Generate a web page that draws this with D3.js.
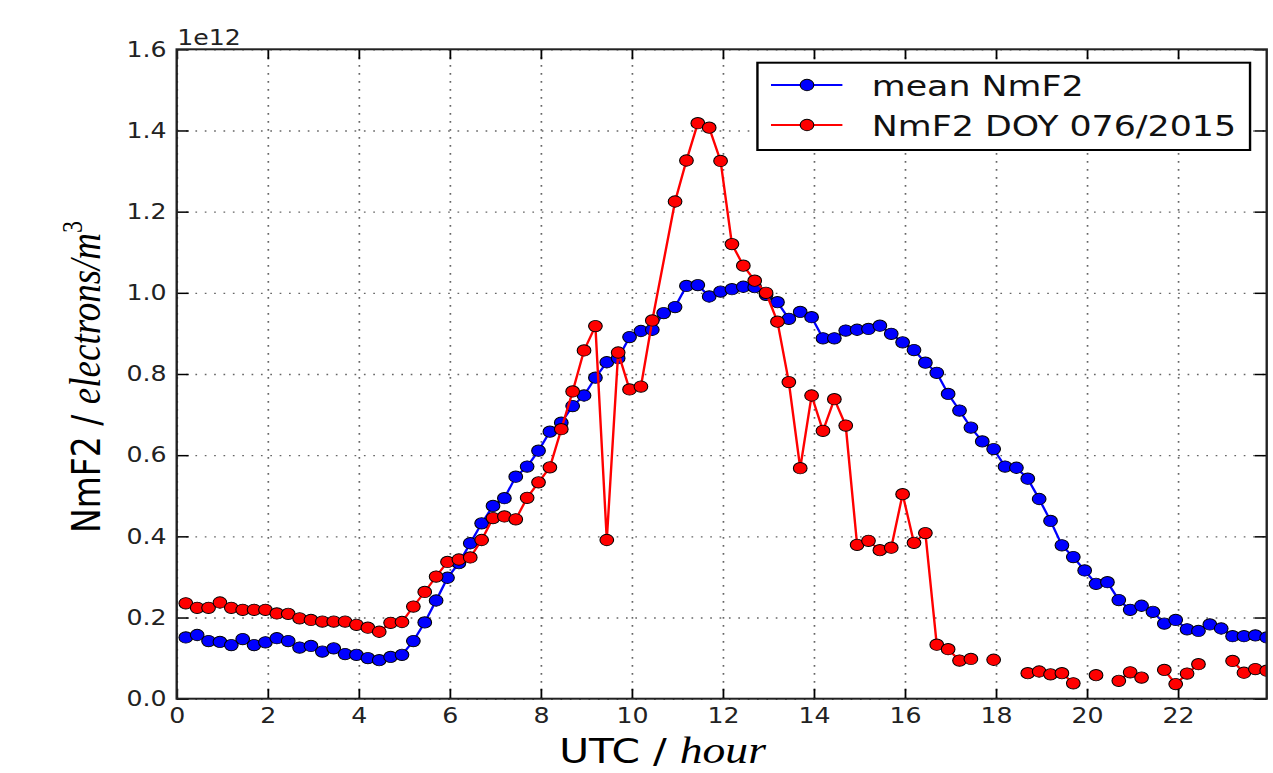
<!DOCTYPE html>
<html>
<head>
<meta charset="utf-8">
<script src="https://cdn.jsdelivr.net/npm/d3@7/dist/d3.min.js"></script>
<style>
  body { margin: 0; background: #fff; }
  svg { display: block; }
</style>
</head>
<body>
<div id="chart"></div>
<script>

// UTC hour of each sample (15 min steps)
var hours = [0.2,0.45,0.7,0.95,1.2,1.45,1.7,1.95,2.2,2.45,2.7,2.95,3.2,3.45,3.7,3.95,
  4.2,4.45,4.7,4.95,5.2,5.45,5.7,5.95,6.2,6.45,6.7,6.95,7.2,7.45,7.7,7.95,
  8.2,8.45,8.7,8.95,9.2,9.45,9.7,9.95,10.2,10.45,10.7,10.95,11.2,11.45,11.7,11.95,
  12.2,12.45,12.7,12.95,13.2,13.45,13.7,13.95,14.2,14.45,14.7,14.95,15.2,15.45,15.7,15.95,
  16.2,16.45,16.7,16.95,17.2,17.45,17.7,17.95,18.2,18.45,18.7,18.95,19.2,19.45,19.7,19.95,
  20.2,20.45,20.7,20.95,21.2,21.45,21.7,21.95,22.2,22.45,22.7,22.95,23.2,23.45,23.7,23.95];

// mean NmF2, units of 1e12 electrons/m^3
var meanNmF2 = [0.151,0.157,0.142,0.140,0.132,0.147,0.132,0.139,0.149,0.142,0.126,0.130,0.116,0.124,0.110,0.108,
  0.100,0.095,0.103,0.108,0.142,0.188,0.242,0.298,0.334,0.383,0.432,0.475,0.494,0.547,0.572,0.611,
  0.658,0.680,0.721,0.747,0.791,0.829,0.839,0.891,0.906,0.909,0.950,0.965,1.017,1.019,0.991,1.003,
  1.009,1.015,1.014,0.995,0.977,0.936,0.953,0.940,0.888,0.888,0.907,0.909,0.911,0.919,0.899,0.878,
  0.859,0.828,0.803,0.751,0.710,0.668,0.634,0.615,0.572,0.569,0.542,0.492,0.438,0.378,0.349,0.316,
  0.283,0.287,0.243,0.219,0.229,0.214,0.185,0.194,0.171,0.167,0.183,0.173,0.154,0.154,0.156,0.151];

// DOY 076/2015 samples (no sample at 10.7, null = gap)
var doyHours = [0.2,0.45,0.7,0.95,1.2,1.45,1.7,1.95,2.2,2.45,2.7,2.95,3.2,3.45,3.7,3.95,
  4.2,4.45,4.7,4.95,5.2,5.45,5.7,5.95,6.2,6.45,6.7,6.95,7.2,7.45,7.7,7.95,
  8.2,8.45,8.7,8.95,9.2,9.45,9.7,9.95,10.2,10.45,10.95,11.2,11.45,11.7,11.95,
  12.2,12.45,12.7,12.95,13.2,13.45,13.7,13.95,14.2,14.45,14.7,14.95,15.2,15.45,15.7,15.95,
  16.2,16.45,16.7,16.95,17.2,17.45,17.7,17.95,18.2,18.45,18.7,18.95,19.2,19.45,19.7,19.95,
  20.2,20.45,20.7,20.95,21.2,21.45,21.7,21.95,22.2,22.45,22.7,22.95,23.2,23.45,23.7,23.95];

var doyNmF2 = [0.235,0.224,0.224,0.237,0.224,0.219,0.219,0.219,0.210,0.209,0.198,0.194,0.190,0.190,0.190,0.182,
  0.175,0.165,0.187,0.189,0.227,0.263,0.301,0.337,0.343,0.348,0.391,0.445,0.449,0.442,0.495,0.533,
  0.570,0.664,0.757,0.858,0.918,0.391,0.853,0.762,0.769,0.932,1.225,1.326,1.418,1.407,1.325,
  1.120,1.067,1.030,1.000,0.929,0.780,0.568,0.747,0.660,0.738,0.673,0.379,0.389,0.366,0.372,
  0.504,0.384,0.408,0.133,0.122,0.094,0.098,null,0.096,null,null,0.063,0.067,0.060,0.063,0.038,
  null,0.058,null,0.044,0.065,0.052,null,0.071,0.036,0.062,0.085,null,null,0.093,0.064,0.073,0.069];

var xTicks = [0,2,4,6,8,10,12,14,16,18,20,22];
var yTicks = [0,0.2,0.4,0.6,0.8,1.0,1.2,1.4,1.6];
var seriesNames = ['mean NmF2', 'NmF2 DOY 076/2015'];
var seriesColors = ['#0000ff', '#ff0000'];

// the picture is stretched sideways, so draw in a narrower box and let it stretch
var sx = 1.2;
var W = 1273 / sx, H = 773;
var pL = 147.25, pR = 1055.6, pT = 49.3, pB = 698.7;
var markR = 5.7;

var svg = d3.select('#chart').append('svg')
  .attr('width', 1273)
  .attr('height', 773)
  .attr('viewBox', '0 0 ' + W + ' ' + H)
  .attr('preserveAspectRatio', 'none');

var x = d3.scaleLinear().domain([0, 23.95]).range([pL, pR]);
var y = d3.scaleLinear().domain([0, 1.6]).range([pB, pT]);

svg.append('clipPath').attr('id', 'clip')
  .append('rect')
  .attr('x', pL).attr('y', pT)
  .attr('width', pR - pL).attr('height', pB - pT);

// dotted grid
svg.append('g')
  .attr('class', 'grid')
  .attr('transform', 'translate(0,' + pB + ')')
  .call(d3.axisBottom(x).tickValues(xTicks).tickSize(-(pB - pT)).tickFormat(''))
  .call(function(g) { g.select('.domain').remove(); })
  .selectAll('line')
  .attr('stroke', '#666').attr('stroke-width', 1.4).attr('stroke-dasharray', '1.6,6.4');

svg.append('g')
  .attr('class', 'grid')
  .attr('transform', 'translate(' + pL + ',0)')
  .call(d3.axisLeft(y).tickValues(yTicks).tickSize(-(pR - pL)).tickFormat(''))
  .call(function(g) { g.select('.domain').remove(); })
  .selectAll('line')
  .attr('stroke', '#666').attr('stroke-width', 1.4).attr('stroke-dasharray', '1.4,6.4');

// data
var plot = svg.append('g').attr('clip-path', 'url(#clip)');

function drawSeries(xs, ys, color) {
  var pts = xs.map(function(h, i) { return [h, ys[i]]; });
  var line = d3.line()
    .defined(function(d) { return d[1] !== null; })
    .x(function(d) { return x(d[0]); })
    .y(function(d) { return y(d[1]); });

  plot.append('path')
    .datum(pts)
    .attr('d', line)
    .attr('fill', 'none')
    .attr('stroke', color)
    .attr('stroke-width', 2);

  plot.append('g').selectAll('circle')
    .data(pts.filter(function(d) { return d[1] !== null; }))
    .enter().append('circle')
    .attr('cx', function(d) { return x(d[0]); })
    .attr('cy', function(d) { return y(d[1]); })
    .attr('r', markR)
    .attr('fill', color)
    .attr('stroke', '#000')
    .attr('stroke-width', 0.9);
}

drawSeries(hours, meanNmF2, seriesColors[0]);
drawSeries(doyHours, doyNmF2, seriesColors[1]);

// ticks (inside, all four sides) and labels
var tickFont = 'DejaVu Sans, Bitstream Vera Sans, sans-serif';

var xAxis = svg.append('g')
  .attr('class', 'ax')
  .attr('transform', 'translate(0,' + pB + ')')
  .call(d3.axisBottom(x).tickValues(xTicks).tickSizeInner(-10).tickSizeOuter(0).tickPadding(9)
    .tickFormat(d3.format('d')));
xAxis.select('.domain').remove();

var yAxis = svg.append('g')
  .attr('class', 'ax')
  .attr('transform', 'translate(' + pL + ',0)')
  .call(d3.axisLeft(y).tickValues(yTicks).tickSizeInner(-10).tickSizeOuter(0).tickPadding(8.5)
    .tickFormat(d3.format('.1f')));
yAxis.select('.domain').remove();

svg.append('g')
  .attr('class', 'ax')
  .attr('transform', 'translate(0,' + pT + ')')
  .call(d3.axisTop(x).tickValues(xTicks).tickSizeInner(-10).tickSizeOuter(0).tickFormat(''))
  .select('.domain').remove();

svg.append('g')
  .attr('class', 'ax')
  .attr('transform', 'translate(' + pR + ',0)')
  .call(d3.axisRight(y).tickValues(yTicks).tickSizeInner(-10).tickSizeOuter(0).tickFormat(''))
  .select('.domain').remove();

svg.selectAll('.ax .tick line')
  .attr('stroke', '#000').attr('stroke-width', 1.5);

svg.selectAll('.ax .tick text')
  .attr('font-family', tickFont)
  .attr('font-size', 21)
  .attr('fill', '#222');

// frame
svg.append('rect')
  .attr('x', pL).attr('y', pT)
  .attr('width', pR - pL).attr('height', pB - pT)
  .attr('fill', 'none')
  .attr('stroke', '#222')
  .attr('stroke-width', 2);

// offset text
svg.append('text')
  .attr('x', pL + 0.5).attr('y', 45)
  .attr('font-family', tickFont).attr('font-size', 21).attr('fill', '#222')
  .text('1e12');

// axis labels
var xl = svg.append('text')
  .attr('x', 466).attr('y', 763)
  .attr('font-family', tickFont).attr('font-size', 34).attr('fill', '#000');
xl.append('tspan').text('UTC / ');
xl.append('tspan').attr('font-family', 'Liberation Serif, serif').attr('font-style', 'italic')
  .attr('font-size', 38).text('hour');

var yl = svg.append('text')
  .attr('transform', 'translate(83.5,533) rotate(-90)')
  .attr('font-family', tickFont).attr('font-size', 33).attr('fill', '#000');
yl.append('tspan').text('NmF2 / ');
yl.append('tspan').attr('font-family', 'Liberation Serif, serif').attr('font-style', 'italic')
  .attr('font-size', 37).text('electrons/m');
yl.append('tspan').attr('font-family', 'Liberation Serif, serif').attr('font-size', 24)
  .attr('dy', -15).text('3');

// legend
var lg = svg.append('g');
lg.append('rect')
  .attr('x', 631.2).attr('y', 62.7)
  .attr('width', 410.5).attr('height', 87.3)
  .attr('fill', '#fff').attr('stroke', '#000').attr('stroke-width', 2);

var rows = lg.selectAll('g.row')
  .data(seriesNames)
  .enter().append('g')
  .attr('class', 'row')
  .attr('transform', function(d, i) { return 'translate(0,' + (85 + i * 40) + ')'; });

rows.append('line')
  .attr('x1', 642.5).attr('x2', 702)
  .attr('stroke', function(d, i) { return seriesColors[i]; })
  .attr('stroke-width', 2);
rows.append('circle')
  .attr('cx', 672.5).attr('r', markR)
  .attr('fill', function(d, i) { return seriesColors[i]; })
  .attr('stroke', '#000').attr('stroke-width', 0.9);
rows.append('text')
  .attr('x', 726.5).attr('y', 10.5)
  .attr('font-family', tickFont).attr('font-size', 29).attr('fill', '#111')
  .text(function(d) { return d; });

</script>
</body>
</html>
